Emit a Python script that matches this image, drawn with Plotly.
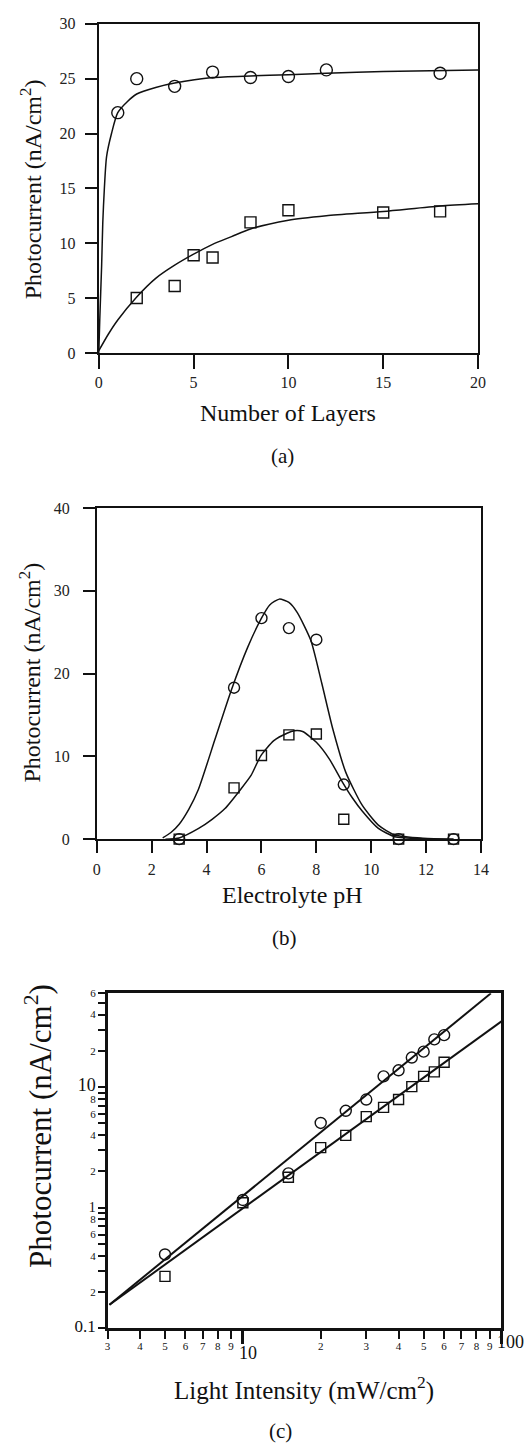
import numpy as np
import plotly.graph_objects as go

W, H = 531, 1452
FONT = "Liberation Serif, Times New Roman, serif"
INK = "#111111"

# ---------------- Panel (a): photocurrent vs number of layers ----------------
a_layers_circ = [1, 2, 4, 6, 8, 10, 12, 18]
a_pc_circ = [21.9, 25.0, 24.3, 25.6, 25.1, 25.2, 25.8, 25.5]
a_layers_sq = [2, 4, 5, 6, 8, 10, 15, 18]
a_pc_sq = [5.0, 6.1, 8.9, 8.7, 11.9, 13.0, 12.8, 12.9]
a_fit_circ_x = [0.0, 0.05, 0.15, 0.21, 0.29, 0.41, 0.67, 1.0, 1.5, 2.0, 3.0, 4.0, 6.0, 8.0, 10.0, 12.0, 15.0, 20.0]
a_fit_circ_y = [0.0, 3.0, 8.0, 11.9, 14.9, 17.9, 20.0, 21.9, 22.9, 23.6, 24.2, 24.6, 25.1, 25.25, 25.35, 25.5, 25.65, 25.8]
a_fit_sq_x = [0.0, 0.5, 1.0, 2.0, 3.0, 4.0, 5.0, 6.0, 7.0, 8.0, 10.0, 12.0, 15.0, 18.0, 20.0]
a_fit_sq_y = [0.2, 1.7, 3.0, 5.1, 6.8, 8.0, 9.0, 9.9, 10.6, 11.3, 12.1, 12.5, 12.9, 13.4, 13.6]
a_xticks = [0, 5, 10, 15, 20]
a_yticks = [0, 5, 10, 15, 20, 25, 30]

# ---------------- Panel (b): photocurrent vs electrolyte pH ----------------
b_ph_circ = [3, 5, 6, 7, 8, 9, 11, 13]
b_pc_circ = [0.0, 18.3, 26.7, 25.5, 24.1, 6.6, 0.0, 0.0]
b_ph_sq = [3, 5, 6, 7, 8, 9, 11, 13]
b_pc_sq = [0.0, 6.2, 10.1, 12.6, 12.7, 2.4, 0.0, 0.0]
b_fit_circ_x = [2.4, 2.7, 3.0, 3.35, 3.7, 4.3, 4.9, 5.5, 6.0, 6.3, 6.65, 7.0, 7.3, 7.8, 8.2, 8.6, 9.07, 9.67, 10.26, 10.86, 11.9, 13.0]
b_fit_circ_y = [0.15, 0.8, 1.8, 3.6, 6.0, 12.0, 18.0, 23.2, 26.7, 28.3, 29.0, 28.6, 27.4, 24.0, 18.8, 13.3, 8.1, 4.1, 1.7, 0.5, 0.1, 0.0]
b_fit_sq_x = [2.5, 3.0, 3.71, 4.2, 4.67, 5.26, 5.62, 5.98, 6.45, 6.93, 7.2, 7.5, 8.0, 8.47, 8.95, 9.31, 9.67, 10.26, 10.86, 11.9, 13.0]
b_fit_sq_y = [0.0, 0.15, 1.3, 2.4, 3.7, 6.1, 7.7, 10.1, 11.9, 12.8, 13.1, 13.0, 11.7, 9.7, 6.9, 5.0, 3.4, 1.3, 0.3, 0.05, 0.0]
b_xticks = [0, 2, 4, 6, 8, 10, 12, 14]
b_yticks = [0, 10, 20, 30, 40]

# ---------------- Panel (c): photocurrent vs light intensity (log-log) ----------------
c_int_circ = [5, 10, 15, 20, 25, 30, 35, 40, 45, 50, 55, 60]
c_pc_circ = [0.41, 1.16, 1.93, 5.05, 6.37, 7.9, 12.3, 13.8, 17.6, 19.7, 24.9, 27.0]
c_int_sq = [5, 10, 15, 20, 25, 30, 35, 40, 45, 50, 55, 60]
c_pc_sq = [0.27, 1.1, 1.79, 3.15, 3.98, 5.7, 6.8, 7.9, 10.1, 12.3, 13.4, 16.1]
c_fit_circ_x = [3.05, 91.0]
c_fit_circ_y = [0.157, 60.0]
c_fit_sq_x = [3.05, 100.0]
c_fit_sq_y = [0.157, 35.1]
c_xtick_vals = [3, 4, 5, 6, 7, 8, 9, 20, 30, 40, 50, 60, 70, 80, 90]
c_xtick_text = ["3", "4", "5", "6", "7", "8", "9", "2", "3", "4", "5", "6", "7", "8", "9"]
c_xbig_vals = [10, 100]
c_xbig_text = ["10", "100"]
c_ytick_vals = [0.1, 0.2, 0.4, 0.6, 0.8, 1, 2, 4, 6, 8, 10, 20, 40, 60]
c_ytick_text = ["0.1", "2", "4", "6", "8", "1", "2", "4", "6", "8", "10", "2", "4", "6"]
c_yminor_vals = [0.3, 0.5, 0.7, 0.9, 3, 5, 7, 9, 30, 50]


def px(x):
    return x / W


def py(y):
    return 1 - y / H


def big(t, size):
    return f'<span style="font-size:{size}px">{t}</span>'


c_ytick_text_fmt = []
for t in c_ytick_text:
    if t == "0.1":
        c_ytick_text_fmt.append(big(t, 17))
    elif t == "10":
        c_ytick_text_fmt.append(big(t, 18))
    elif t == "1":
        c_ytick_text_fmt.append(big(t, 14))
    else:
        c_ytick_text_fmt.append(t)

fig = go.Figure()

circ = dict(symbol="circle-open", color=INK, line=dict(width=1.4, color=INK))
sq = dict(symbol="square-open", color=INK, line=dict(width=1.4, color=INK))
fitline = dict(color=INK, width=1.5)

# (a)
fig.add_trace(go.Scatter(x=a_fit_circ_x, y=a_fit_circ_y, mode="lines", line=dict(**fitline, shape="spline", smoothing=0.7), xaxis="x", yaxis="y"))
fig.add_trace(go.Scatter(x=a_fit_sq_x, y=a_fit_sq_y, mode="lines", line=dict(**fitline, shape="spline", smoothing=0.7), xaxis="x", yaxis="y"))
fig.add_trace(go.Scatter(x=a_layers_circ, y=a_pc_circ, mode="markers", marker=dict(**circ, size=12), xaxis="x", yaxis="y", cliponaxis=False))
fig.add_trace(go.Scatter(x=a_layers_sq, y=a_pc_sq, mode="markers", marker=dict(**sq, size=11), xaxis="x", yaxis="y", cliponaxis=False))

# (b)
fig.add_trace(go.Scatter(x=b_fit_circ_x, y=b_fit_circ_y, mode="lines", line=dict(**fitline, shape="spline", smoothing=0.6), xaxis="x2", yaxis="y2"))
fig.add_trace(go.Scatter(x=b_fit_sq_x, y=b_fit_sq_y, mode="lines", line=dict(**fitline, shape="spline", smoothing=0.6), xaxis="x2", yaxis="y2"))
fig.add_trace(go.Scatter(x=b_ph_circ, y=b_pc_circ, mode="markers", marker=dict(**circ, size=11), xaxis="x2", yaxis="y2", cliponaxis=False))
fig.add_trace(go.Scatter(x=b_ph_sq, y=b_pc_sq, mode="markers", marker=dict(**sq, size=10), xaxis="x2", yaxis="y2", cliponaxis=False))

# (c)
fig.add_trace(go.Scatter(x=c_fit_circ_x, y=c_fit_circ_y, mode="lines", line=dict(color=INK, width=2), xaxis="x3", yaxis="y3"))
fig.add_trace(go.Scatter(x=c_fit_sq_x, y=c_fit_sq_y, mode="lines", line=dict(color=INK, width=2), xaxis="x3", yaxis="y3"))
fig.add_trace(go.Scatter(x=c_int_circ, y=c_pc_circ, mode="markers", marker=dict(**circ, size=11), xaxis="x3", yaxis="y3", cliponaxis=False))
fig.add_trace(go.Scatter(x=c_int_sq, y=c_pc_sq, mode="markers", marker=dict(**sq, size=10), xaxis="x3", yaxis="y3", cliponaxis=False))

tickfont_ab = dict(family=FONT, size=16, color="#222222")
axis_common = dict(showgrid=False, zeroline=False, showline=True, mirror=True, linecolor=INK,
                   ticks="outside", tickcolor=INK, layer="above traces")

layout = dict(
    width=W, height=H, margin=dict(l=0, r=0, t=0, b=0),
    paper_bgcolor="white", plot_bgcolor="white", showlegend=False,
    font=dict(family=FONT, color=INK),
    # (a)
    xaxis=dict(**axis_common, domain=[px(97), px(485)], anchor="y", range=[0, 20],
               tickvals=a_xticks, ticklen=14, tickwidth=2, linewidth=2, tickfont=tickfont_ab,
               ticklabelstandoff=0),
    yaxis=dict(**axis_common, domain=[py(349), py(16)], anchor="x", range=[0, 30],
               tickvals=a_yticks, ticklen=12, tickwidth=1.5, linewidth=2, tickfont=tickfont_ab,
               ticklabelstandoff=6),
    # (b)
    xaxis2=dict(**axis_common, domain=[px(95), px(488)], anchor="y2", range=[0, 14],
                tickvals=b_xticks, ticklen=12, tickwidth=2, linewidth=2, tickfont=tickfont_ab,
                ticklabelstandoff=3),
    yaxis2=dict(**axis_common, domain=[py(841), py(506)], anchor="x2", range=[0, 40],
                tickvals=b_yticks, ticklen=12, tickwidth=1.5, linewidth=2, tickfont=tickfont_ab,
                ticklabelstandoff=10),
    # (c)
    xaxis3=dict(**axis_common, domain=[px(106), px(509)], anchor="y3", type="log",
                range=[np.log10(3), 2], tickvals=c_xtick_vals, ticktext=c_xtick_text,
                ticklen=8, tickwidth=2, linewidth=2.5,
                minor=dict(tickvals=c_xbig_vals, ticks="outside", ticklen=13, tickwidth=2.5, tickcolor=INK),
                tickfont=dict(family=FONT, size=11, color=INK), ticklabelstandoff=-2),
    yaxis3=dict(**axis_common, domain=[py(1336), py(997)], anchor="x3", type="log",
                range=[-1, np.log10(60)], tickvals=c_ytick_vals, ticktext=c_ytick_text_fmt,
                ticklen=7, tickwidth=2, linewidth=2.5,
                minor=dict(tickvals=c_yminor_vals, ticks="outside", ticklen=7, tickwidth=2, tickcolor=INK),
                tickfont=dict(family=FONT, size=11, color=INK), ticklabelstandoff=0),
)
fig.update_layout(**layout)

ann = []
ytitle = "Photocurrent (nA/cm<sup>2</sup>)"
# y titles
ann.append(dict(text=ytitle, x=px(27), y=py(183), textangle=-90, font=dict(size=24)))
ann.append(dict(text=ytitle, x=px(27), y=py(672), textangle=-90, font=dict(size=24)))
ann.append(dict(text=ytitle, x=px(36), y=py(1131), textangle=-90, font=dict(size=31)))
# x titles
ann.append(dict(text="Number of Layers", x=px(291), y=py(410), font=dict(size=24)))
ann.append(dict(text="Electrolyte pH", x=px(295), y=py(898), font=dict(size=24)))
ann.append(dict(text="Light Intensity (mW/cm<sup>2</sup>)", x=px(307), y=py(1397), font=dict(size=25)))
# panel letters
ann.append(dict(text="(a)", x=px(285), y=py(453), font=dict(size=21)))
ann.append(dict(text="(b)", x=px(287), y=py(941), font=dict(size=21)))
ann.append(dict(text="(c)", x=px(283), y=py(1440), font=dict(size=21)))
for a in ann:
    a.update(xref="paper", yref="paper", showarrow=False, xanchor="center", yanchor="middle")
    a["font"].update(family=FONT, color=INK)

# big decade labels on the log x axis of (c)
big_y = [py(1361), py(1350)]
big_shift = [5, 9]
for v, t, yy, sh in zip(c_xbig_vals, c_xbig_text, big_y, big_shift):
    ann.append(dict(text=t, x=np.log10(v), xref="x3", y=yy, yref="paper", xshift=sh,
                    showarrow=False, xanchor="center", yanchor="middle",
                    font=dict(family=FONT, size=18, color=INK)))

fig.update_layout(annotations=ann)
fig.write_html("out.html")
